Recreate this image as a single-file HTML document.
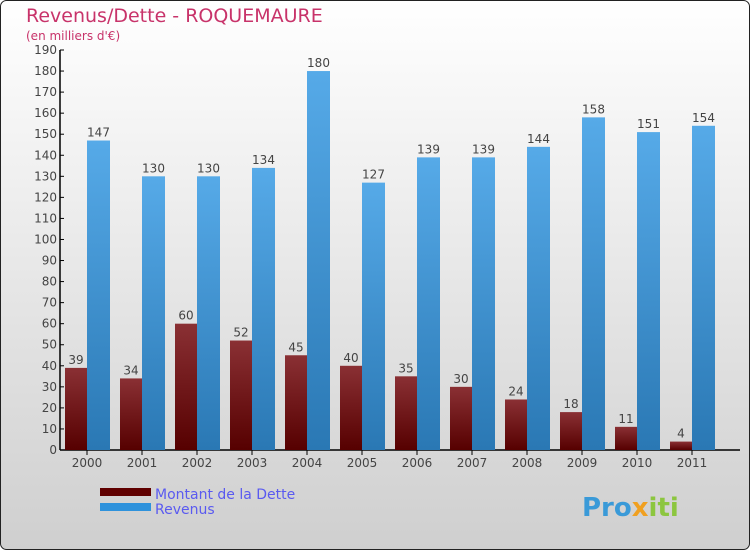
<!DOCTYPE html>
<html><head><meta charset="utf-8"><style>
body{margin:0}
svg{display:block;font-family:"DejaVu Sans","Liberation Sans",sans-serif}
</style></head><body>
<svg id="c" width="750" height="550" xmlns="http://www.w3.org/2000/svg">
<defs>
<linearGradient id="bg" x1="0" y1="0" x2="0" y2="1"><stop offset="0" stop-color="#ffffff"/><stop offset="1" stop-color="#cfcfcf"/></linearGradient>
<linearGradient id="gd" x1="0" y1="0" x2="0" y2="1"><stop offset="0" stop-color="#8a3034"/><stop offset="1" stop-color="#560000"/></linearGradient>
<linearGradient id="gr" x1="0" y1="0" x2="0" y2="1"><stop offset="0" stop-color="#56aae8"/><stop offset="1" stop-color="#2a78b4"/></linearGradient>
</defs>
<rect x="0.5" y="0.5" width="749" height="549" rx="6" fill="url(#bg)" stroke="#222"/>
<text x="26" y="22" font-size="19" fill="#c8336a">Revenus/Dette - ROQUEMAURE</text>
<text x="26" y="40" font-size="12" fill="#c8336a">(en milliers d'€)</text>
<g id="ax"></g><g id="bars"></g>
<rect x="100" y="488" width="51" height="8" fill="#600000"/>
<rect x="100" y="503" width="51" height="8" fill="#2e92dc"/>
<text x="155" y="499" font-size="14" fill="#5a5af0">Montant de la Dette</text>
<text x="155" y="514" font-size="14" fill="#5a5af0">Revenus</text>
<text x="582" y="516" font-size="26" font-weight="bold" fill="#3a9ad8">Pro<tspan fill="#f0a020">x</tspan><tspan fill="#8cc63f">iti</tspan></text>
</svg>
<script>
const years=["2000","2001","2002","2003","2004","2005","2006","2007","2008","2009","2010","2011"];
const dette=[39,34,60,52,45,40,35,30,24,18,11,4];
const revenus=[147,130,130,134,180,127,139,139,144,158,151,154];
const ticks=[0,10,20,30,40,50,60,70,80,90,100,110,120,130,140,150,160,170,180,190];
const NS="http://www.w3.org/2000/svg";
const y=v=>450-v*400/190;
const xc=i=>87+55*i;
function mk(t,a,p,txt){const e=document.createElementNS(NS,t);for(const k in a)e.setAttribute(k,a[k]);if(txt!=null)e.textContent=txt;p.appendChild(e);return e;}
const ax=document.getElementById('ax'),bars=document.getElementById('bars');
const yl=mk('line',{x1:60,y1:y(190),x2:60,y2:450,stroke:'#000','stroke-width':1.5},ax);


const xl=mk('line',{x1:60,y1:450,x2:740,y2:450,stroke:'#000','stroke-width':1.5},ax);


ticks.forEach(t=>{
 mk('line',{x1:60,y1:y(t),x2:64,y2:y(t),stroke:'#000'},ax);
 const e=mk('text',{x:57,y:y(t)+4,'font-size':12,fill:'#444','text-anchor':'end'},ax,t);
 
 
});
years.forEach((yr,i)=>{
 const c=xc(i);
 mk('line',{x1:c,y1:450,x2:c,y2:455,stroke:'#000'},ax);
 const t=mk('text',{x:c,y:467,'font-size':12,fill:'#444','text-anchor':'middle'},ax,yr);
 
 
 const b1=mk('rect',{x:c-22,y:y(dette[i]),width:22,height:450-y(dette[i]),fill:'url(#gd)'},bars);
 
 
 const l1=mk('text',{x:c-11,y:y(dette[i])-4,'font-size':12,fill:'#444','text-anchor':'middle'},bars,dette[i]);
 
 
 const b2=mk('rect',{x:c,y:y(revenus[i]),width:23,height:450-y(revenus[i]),fill:'url(#gr)'},bars);
 
 
 const l2=mk('text',{x:c+11.5,y:y(revenus[i])-4,'font-size':12,fill:'#444','text-anchor':'middle'},bars,revenus[i]);
 
 
});
</script>
</body></html>
